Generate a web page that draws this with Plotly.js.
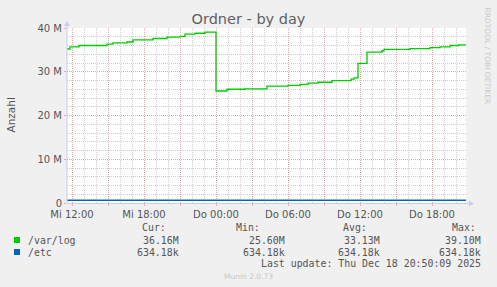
<!DOCTYPE html>
<html>
<head>
<meta charset="utf-8">
<script src="https://cdn.plot.ly/plotly-3.0.1.min.js"></script>
<style>
html,body{margin:0;padding:0;background:#f0f0f0;}
#chart{width:497px;height:287px;}
</style>
</head>
<body>
<div id="chart"></div>
<script>
// ---- data ----
var varlogTimes = [
  "2025-12-17 11:35","2025-12-17 11:50","2025-12-17 12:35","2025-12-17 14:55","2025-12-17 15:25",
  "2025-12-17 16:35","2025-12-17 17:05","2025-12-17 18:45","2025-12-17 19:55","2025-12-17 21:00",
  "2025-12-17 21:25","2025-12-17 22:15","2025-12-17 23:05","2025-12-18 00:00","2025-12-18 00:55",
  "2025-12-18 02:25","2025-12-18 04:15","2025-12-18 06:00","2025-12-18 07:00","2025-12-18 07:40",
  "2025-12-18 08:30","2025-12-18 09:40","2025-12-18 11:15","2025-12-18 11:30","2025-12-18 11:50",
  "2025-12-18 12:35","2025-12-18 13:50","2025-12-18 14:00","2025-12-18 16:10","2025-12-18 17:50",
  "2025-12-18 18:40","2025-12-18 19:30","2025-12-18 20:15","2025-12-18 20:50"
];
var varlogValues = [
  35.2e6,35.7e6,36.0e6,36.3e6,36.6e6,
  36.8e6,37.3e6,37.6e6,37.9e6,38.1e6,
  38.6e6,38.8e6,39.05e6,25.6e6,26.0e6,
  26.1e6,26.7e6,26.9e6,27.1e6,27.4e6,
  27.6e6,27.95e6,28.3e6,28.6e6,31.9e6,
  34.5e6,34.8e6,35.1e6,35.3e6,35.5e6,
  35.7e6,36.0e6,36.16e6,36.16e6
];
var etcTimes = ["2025-12-17 11:35","2025-12-18 20:50"];
var etcValues = [634180,634180];

var xTickVals = ["2025-12-17 12:00","2025-12-17 15:00","2025-12-17 18:00","2025-12-17 21:00","2025-12-18 00:00",
  "2025-12-18 03:00","2025-12-18 06:00","2025-12-18 09:00","2025-12-18 12:00","2025-12-18 15:00","2025-12-18 18:00"];
var xTickText = ["Mi 12:00","","Mi 18:00","","Do 00:00","","Do 06:00","","Do 12:00","","Do 18:00"];
var yTickVals = [0,10e6,20e6,30e6,40e6];
var yTickText = ["0","10 M","20 M","30 M","40 M"];

var seriesNames = ["/var/log","/etc"];
var seriesColors = ["#00cc00","#0066b3"];
var curVals = ["36.16M","634.18k"];
var minVals = ["25.60M","634.18k"];
var avgVals = ["33.13M","634.18k"];
var maxVals = ["39.10M","634.18k"];

// ---- geometry helpers (pixel -> paper) ----
var L=67, R=466, T=28, B=203;
function px(x){return (x-L)/(R-L);}
function py(y){return (B-y)/(B-T);}

var mono = {family:"DejaVu Sans Mono", size:9.9, color:"#555"};
var annotations = [];
function txt(x,y,s,anchor,font){
  annotations.push({xref:"paper",yref:"paper",x:px(x),y:py(y),text:s,showarrow:false,
    xanchor:anchor||"right",yanchor:"middle",font:font||mono});
}
txt(168,227,"Cur:");
txt(262,227,"Min:");
txt(369,227,"Avg:");
txt(478,227,"Max:");
var rowY=[240,252];
for(var i=0;i<2;i++){
  txt(26,rowY[i],seriesNames[i],"left");
  txt(181,rowY[i],curVals[i]);
  txt(287,rowY[i],minVals[i]);
  txt(382,rowY[i],avgVals[i]);
  txt(483,rowY[i],maxVals[i]);
}
txt(483,263,"Last update: Thu Dec 18 20:50:09 2025");
txt(248,276,"Munin 2.0.73","center",{family:"DejaVu Sans",size:7.5,color:"#c8c8c8"});
annotations.push({xref:"paper",yref:"paper",x:px(487),y:py(5),text:"RRDTOOL / TOBI OETIKER",
  showarrow:false,textangle:90,xanchor:"center",yanchor:"top",
  font:{family:"DejaVu Sans",size:7.5,color:"#c8c8c8"}});
annotations.push({xref:"paper",yref:"paper",x:px(10),y:py(115.5),text:"Anzahl",
  showarrow:false,textangle:-90,xanchor:"center",yanchor:"middle",
  font:{family:"DejaVu Sans",size:10.5,color:"#555"}});

var shapes = [];
for(var j=0;j<2;j++){
  var yc=rowY[j];
  shapes.push({type:"rect",xref:"paper",yref:"paper",x0:px(14),x1:px(20),y0:py(yc-3),y1:py(yc+3),
    fillcolor:seriesColors[j],line:{width:0}});
}
var axC="#c8cdf0";
shapes.push({type:"line",xref:"paper",yref:"paper",x0:px(67),x1:px(469),y0:py(203.5),y1:py(203.5),line:{color:axC,width:1}});
shapes.push({type:"line",xref:"paper",yref:"paper",x0:px(67),x1:px(67),y0:py(203.5),y1:py(24),line:{color:axC,width:1}});
shapes.push({type:"path",xref:"paper",yref:"paper",
  path:"M "+px(469)+" "+py(200.5)+" L "+px(474)+" "+py(203.5)+" L "+px(469)+" "+py(206.5)+" Z",
  fillcolor:axC,line:{width:0}});
shapes.push({type:"path",xref:"paper",yref:"paper",
  path:"M "+px(64)+" "+py(26)+" L "+px(67)+" "+py(21)+" L "+px(70)+" "+py(26)+" Z",
  fillcolor:axC,line:{width:0}});

var traces = [
  {x:etcTimes,y:etcValues,type:"scatter",mode:"lines",line:{color:seriesColors[1],width:1.3,shape:"hv"},name:seriesNames[1]},
  {x:varlogTimes,y:varlogValues,type:"scatter",mode:"lines",line:{color:seriesColors[0],width:1.3,shape:"hv"},name:seriesNames[0]}
];

var majC="#e6aaaa", minC="#cccccc";
var layout = {
  width:497,height:287,
  margin:{l:L,r:497-R,t:T,b:287-B,pad:0},
  paper_bgcolor:"#f0f0f0",plot_bgcolor:"#ffffff",
  showlegend:false,
  title:{text:"Ordner - by day",x:0.5,xref:"container",xanchor:"center",y:1-19/287,yanchor:"middle",
    font:{family:"DejaVu Sans",size:14.5,color:"#606060"}},
  xaxis:{type:"date",range:["2025-12-17 11:35","2025-12-18 20:50"],
    tickmode:"array",tickvals:xTickVals,ticktext:xTickText,
    showgrid:true,gridcolor:majC,griddash:"1px,1px",gridwidth:1,
    ticks:"outside",ticklen:2,tickcolor:majC,
    tickfont:{family:"DejaVu Sans",size:10,color:"#555"},
    minor:{tick0:"2025-12-17 12:00",dtick:3600000,showgrid:true,gridcolor:minC,griddash:"1px,1px",gridwidth:1},
    zeroline:false,showline:false,fixedrange:true},
  yaxis:{range:[0,40e6],tickmode:"array",tickvals:yTickVals,ticktext:yTickText,
    showgrid:true,gridcolor:majC,griddash:"1px,1px",gridwidth:1,
    ticks:"outside",ticklen:2,tickcolor:majC,
    tickfont:{family:"DejaVu Sans",size:10,color:"#555"},
    minor:{tick0:0,dtick:2e6,showgrid:true,gridcolor:minC,griddash:"1px,1px",gridwidth:1},
    zeroline:false,showline:false,fixedrange:true},
  annotations:annotations,
  shapes:shapes
};
Plotly.newPlot("chart",traces,layout,{staticPlot:true,displayModeBar:false});
</script>
</body>
</html>
